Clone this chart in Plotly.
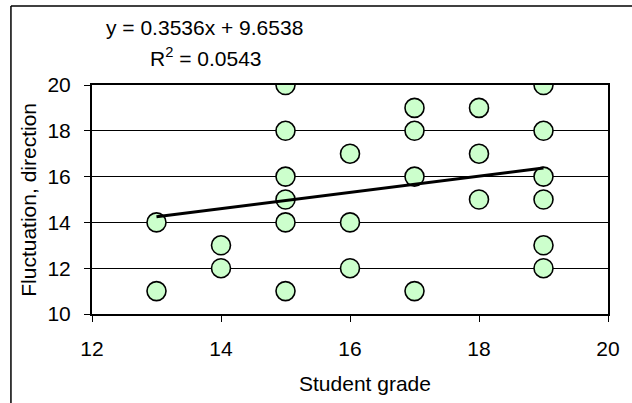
import plotly.graph_objects as go

grade = [13, 13, 14, 14, 15, 15, 15, 15, 15, 15, 16, 16, 16, 17, 17, 17, 17, 18, 18, 18, 19, 19, 19, 19, 19, 19]
fluct = [14, 11, 13, 12, 20, 18, 16, 15, 14, 11, 17, 14, 12, 19, 18, 16, 11, 19, 17, 15, 20, 18, 16, 15, 13, 12]
slope = 0.3536
intercept = 9.6538
r2 = 0.0543
x_ticks = [12, 14, 16, 18, 20]
y_ticks = [10, 12, 14, 16, 18, 20]

FONT = "Liberation Sans, Arial, sans-serif"
FS = 21

# plot area in pixels
L, R, T, B = 92, 614, 85, 314
W, H = 632, 403
PW, PH = R - L, B - T


def px(x):
    return (x - L) / PW


def py(y):
    return (B - y) / PH


trend_x = [min(grade), max(grade)]
trend_y = [slope * v + intercept for v in trend_x]

fig = go.Figure()
fig.add_trace(go.Scatter(
    x=grade, y=fluct, mode="markers",
    marker=dict(size=19, color="#CCFFCC", line=dict(color="black", width=1.6)),
    showlegend=False, hoverinfo="skip"))
fig.add_trace(go.Scatter(
    x=trend_x, y=trend_y, mode="lines",
    line=dict(color="black", width=3),
    showlegend=False, hoverinfo="skip"))

border = dict(color="black", width=1.5)
fig.update_layout(
    width=W, height=H,
    margin=dict(l=L, r=W - R, t=T, b=H - B, pad=0),
    paper_bgcolor="white", plot_bgcolor="white",
    font=dict(family=FONT, size=FS, color="black"),
    xaxis=dict(range=[12, 20], tickvals=x_ticks, showgrid=False, zeroline=False,
               showline=True, linecolor="black", linewidth=2, mirror=True,
               ticks="outside", ticklen=6, tickcolor="black", tickwidth=1,
               ticklabelstandoff=9),
    yaxis=dict(range=[10, 20], tickvals=y_ticks, showgrid=True, gridcolor="black", gridwidth=1,
               zeroline=False, showline=True, linecolor="black", linewidth=2, mirror=True,
               ticks="outside", ticklen=6, tickcolor="black", tickwidth=1,
               ticklabelstandoff=9),
    shapes=[
        dict(type="line", xref="paper", yref="paper",
             x0=px(10), x1=px(640), y0=py(6), y1=py(6), line=border, layer="below"),
        dict(type="line", xref="paper", yref="paper",
             x0=px(10), x1=px(10), y0=py(6), y1=py(410), line=border, layer="below"),
    ],
    annotations=[
        dict(text=f"y = {slope}x + {intercept}", xref="paper", yref="paper",
             x=px(206), y=py(28), xanchor="center", yanchor="middle",
             showarrow=False, font=dict(size=FS)),
        dict(text=f"R<sup>2</sup> = {r2}", xref="paper", yref="paper",
             x=px(207), y=py(57), xanchor="center", yanchor="middle",
             showarrow=False, font=dict(size=FS)),
        dict(text="Student grade", xref="paper", yref="paper",
             x=px(368), y=py(383), xanchor="center", yanchor="middle",
             showarrow=False, font=dict(size=FS)),
        dict(text="Fluctuation, direction", xref="paper", yref="paper",
             x=px(27), y=py(200), xanchor="center", yanchor="middle", textangle=-90,
             showarrow=False, font=dict(size=FS)),
    ],
)

fig.write_html("out.html", config={"displayModeBar": False},
               post_script="document.body.style.margin='0';document.body.style.overflow='hidden';")
